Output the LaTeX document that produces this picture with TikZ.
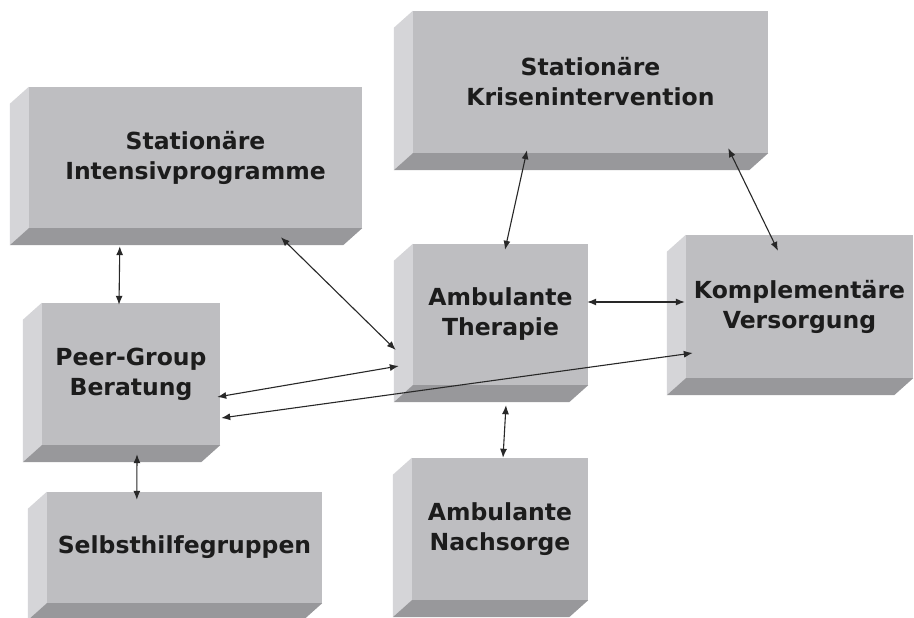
\documentclass[tikz,border=0pt]{standalone}
\usepackage{fontspec}
\setmainfont{DejaVu Sans}
\usetikzlibrary{arrows.meta,calc}
\definecolor{frontc}{RGB}{190,190,193}
\definecolor{leftc}{RGB}{213,213,216}
\definecolor{bottomc}{RGB}{152,152,155}
\definecolor{txtc}{RGB}{28,28,28}
\definecolor{arrc}{RGB}{40,40,40}
\tikzset{
  box3d/.style={rectangle, fill=frontc, inner sep=0pt, align=center, text=txtc,
    font=\fontsize{23.5}{30}\selectfont\bfseries},
  link/.style={draw=arrc, line width=1.1pt,
    {Latex[length=9pt,width=7pt]}-{Latex[length=9pt,width=7pt]}},
}
\newcommand\sidepanels[1]{%
  \fill[leftc] (#1.north west) -- (#1.south west) -- ++(-19,17) -- ($(#1.north west)+(-19,17)$) -- cycle;
  \fill[bottomc] (#1.south west) -- (#1.south east) -- ++(-19,17) -- ($(#1.south west)+(-19,17)$) -- cycle;
}
\begin{document}
\begin{tikzpicture}[x=1pt,y=-1pt]
\useasboundingbox[fill=white] (0,0) rectangle (914,618);

\node[box3d, minimum width=333pt, minimum height=141pt] (intens) at (195.5,157.5) {Stationäre\\Intensivprogramme};
\node[box3d, minimum width=175pt, minimum height=141pt] (ther) at (500.5,314.5) {Ambulante\\Therapie};
\node[box3d, minimum width=178pt, minimum height=142pt] (peer) at (131,374) {Peer-Group\\Beratung};
\node[box3d, minimum width=355pt, minimum height=142pt] (krise) at (590.5,82) {Stationäre\\Krisenintervention};
\node[box3d, minimum width=227pt, minimum height=143pt] (kompl) at (799.5,306.5) {Komplementäre\\Versorgung};
\node[box3d, minimum width=176pt, minimum height=142pt] (nach) at (500,529) {Ambulante\\Nachsorge};
\node[box3d, minimum width=275pt, minimum height=111pt] (selbst) at (184.5,547.5) {Selbsthilfegruppen};

\foreach \b in {intens,ther,peer,krise,kompl,nach,selbst}{\sidepanels{\b}}

\draw[link] ([shift={(91,18)}]intens.south west) -- ([shift={(-12,2)}]peer.north);
\draw[link] ([shift={(252,9)}]intens.south west) -- ([shift={(-17,35.5)}]ther.west);
\draw[link] ([shift={(-3,23)}]peer.east) -- ([shift={(-14,51.5)}]ther.west);
\draw[link] ([shift={(1,44)}]peer.east) -- ([shift={(7,46.5)}]kompl.west);
\draw[link] ([shift={(-1,-12.5)}]ther.east) -- ([shift={(-1,-4.5)}]kompl.west);
\draw[link] ([shift={(-63.5,-3)}]krise.south) -- ([shift={(4.5,6)}]ther.north);
\draw[link] ([shift={(-40,-5)}]krise.south east) -- ([shift={(-21.5,16)}]kompl.north);
\draw[link] ([shift={(5.5,20)}]ther.south) -- ([shift={(3,0)}]nach.north);
\draw[link] ([shift={(6,9)}]peer.south) -- ([shift={(90,8)}]selbst.north west);
\end{tikzpicture}
\end{document}
